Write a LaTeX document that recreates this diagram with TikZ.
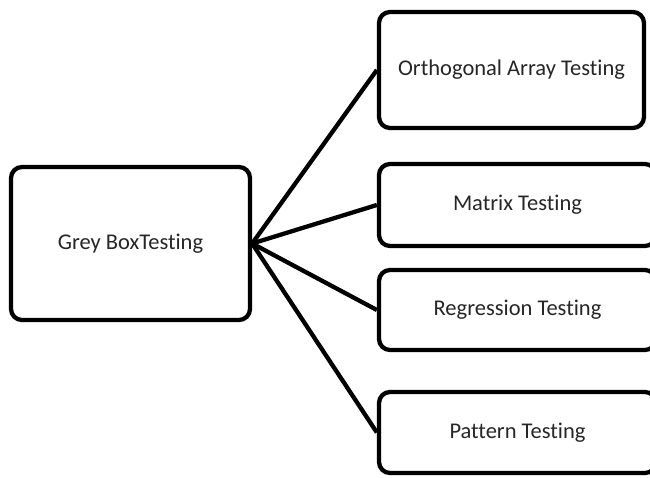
\documentclass[tikz,border=0pt]{standalone}
\usepackage{fontspec}
\setmainfont{Carlito}[Ligatures=NoCommon]

\begin{document}
\begin{tikzpicture}[x=1pt, y=-1pt, line width=4.3pt,
    testbox/.style={draw, rounded corners=11pt, inner sep=0pt, text=black!85,
        font=\fontsize{22.5}{26}\selectfont, minimum width=277pt}]

    \useasboundingbox (0,0) rectangle (650,478);
    \clip (0,0) rectangle (650,478);

    % Nodes
    \node (Grey) [testbox, minimum width=239pt, minimum height=153pt] at (130.5,243.5) {Grey BoxTesting};
    \node (Orth) [testbox, minimum width=265pt, minimum height=116pt] at (511.5,70) {Orthogonal Array Testing};
    \node (Matrix) [testbox, minimum height=82pt] at (517.5,205) {Matrix Testing};
    \node (Regr) [testbox, minimum height=80pt, below of=Matrix, node distance=105pt] {Regression Testing};
    \node (Pattern) [testbox, minimum height=81pt, below of=Regr, node distance=122.5pt] {Pattern Testing};

    % Lines
    \draw (Grey.east) -- (Orth.west);
    \draw (Grey.east) -- (Matrix.west);
    \draw (Grey.east) -- (Regr.west);
    \draw (Grey.east) -- (Pattern.west);

\end{tikzpicture}
\end{document}
